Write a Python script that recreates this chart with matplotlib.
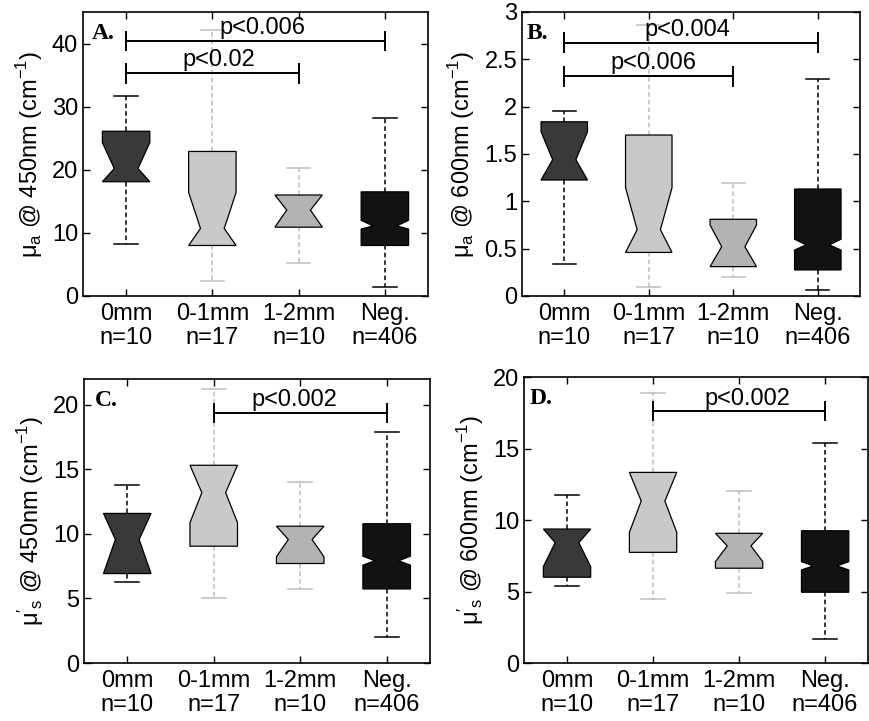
import matplotlib
matplotlib.use("Agg")
import matplotlib.pyplot as plt

plt.rcParams['font.family'] = ['Liberation Sans', 'DejaVu Sans']
plt.rcParams['font.size'] = 17

groups = ['0mm', '0-1mm', '1-2mm', 'Neg.']
counts = [10, 17, 10, 406]
box_colors = ['#393939', '#c9c9c9', '#b3b3b3', '#121212']
whisk_colors = ['black', '#bdbdbd', '#bdbdbd', 'black']

# box summaries per panel: whislo, q1, cilo, med, cihi, q3, whishi
mua450 = [
    [8.2, 18.1, 18.1, 20.2, 24.3, 26.1, 31.7],
    [2.3, 8.0, 8.0, 10.7, 16.4, 22.9, 42.2],
    [5.2, 10.9, 10.9, 13.6, 16.0, 16.0, 20.3],
    [1.5, 8.0, 10.6, 11.1, 12.0, 16.5, 28.2],
]
mua600 = [
    [0.34, 1.225, 1.225, 1.44, 1.735, 1.84, 1.95],
    [0.10, 0.46, 0.46, 0.70, 1.144, 1.70, 2.86],
    [0.20, 0.31, 0.31, 0.52, 0.75, 0.81, 1.19],
    [0.065, 0.275, 0.485, 0.54, 0.60, 1.13, 2.29],
]
mus450 = [
    [6.29, 6.93, 6.93, 9.57, 11.59, 11.59, 13.77],
    [5.07, 9.05, 10.87, 13.2, 15.32, 15.32, 21.2],
    [5.77, 7.71, 8.23, 9.57, 10.6, 10.6, 14.02],
    [1.99, 5.74, 7.58, 7.92, 8.28, 10.79, 17.9],
]
mus600 = [
    [5.42, 6.0, 6.74, 8.42, 9.37, 9.37, 11.74],
    [4.49, 7.74, 9.14, 11.33, 13.33, 13.33, 18.9],
    [4.88, 6.63, 7.09, 8.19, 9.07, 9.07, 12.02],
    [1.67, 4.95, 6.51, 6.79, 7.09, 9.25, 15.4],
]

# significance brackets: (from group, to group, height, label, label x)
sig_a = [(1, 4, 40.4, 'p<0.006', 2.58), (1, 3, 35.3, 'p<0.02', 2.08)]
sig_b = [(1, 4, 2.675, 'p<0.004', 2.46), (1, 3, 2.32, 'p<0.006', 2.06)]
sig_c = [(2, 4, 19.4, 'p<0.002', 2.93)]
sig_d = [(2, 4, 17.6, 'p<0.002', 3.1)]

panels = [
    dict(data=mua450, sig=sig_a, ylim=(0, 45), yticks=[0, 10, 20, 30, 40],
         yticklabels=None, letter='A.', lx=0.026, ly=0.905,
         ylabel='μ$_\\mathregular{a}$ @ 450nm (cm$^\\mathregular{-1}$)',
         rect=[0.0955, 0.5895, 0.397, 0.3939], tick=1.5),
    dict(data=mua600, sig=sig_b, ylim=(0, 3),
         yticks=[0, 0.5, 1, 1.5, 2, 2.5, 3],
         yticklabels=['0', '0.5', '1', '1.5', '2', '2.5', '3'],
         letter='B.', lx=0.014, ly=0.905,
         ylabel='μ$_\\mathregular{a}$ @ 600nm (cm$^\\mathregular{-1}$)',
         rect=[0.6007, 0.5895, 0.389, 0.3939], tick=0.1),
    dict(data=mus450, sig=sig_c, ylim=(0, 22), yticks=[0, 5, 10, 15, 20],
         yticklabels=None, letter='C.', lx=0.032, ly=0.905,
         ylabel="$\\mathregular{μ'_s}$ @ 450nm (cm$^\\mathregular{-1}$)",
         rect=[0.0967, 0.0804, 0.398, 0.3939], tick=0.7),
    dict(data=mus600, sig=sig_d, ylim=(0, 20), yticks=[0, 5, 10, 15, 20],
         yticklabels=None, letter='D.', lx=0.017, ly=0.905,
         ylabel="$\\mathregular{μ'_s}$ @ 600nm (cm$^\\mathregular{-1}$)",
         rect=[0.603, 0.0804, 0.396, 0.3967], tick=0.62),
]

fig = plt.figure(figsize=(8.69, 7.21), dpi=100)
xlabels = [f'{g}\nn={n}' for g, n in zip(groups, counts)]

for p in panels:
    ax = fig.add_axes(p['rect'])
    stats = []
    for row in p['data']:
        wl, q1, cl, md, ch, q3, wh = row
        stats.append(dict(whislo=wl, q1=q1, cilo=cl, med=md, cihi=ch,
                          q3=q3, whishi=wh, fliers=[]))
    res = ax.bxp(stats, positions=[1, 2, 3, 4], widths=0.55,
                 shownotches=True, patch_artist=True, showfliers=False,
                 medianprops=dict(linewidth=0))
    for i, box in enumerate(res['boxes']):
        box.set_facecolor(box_colors[i])
        box.set_edgecolor('black')
        box.set_linewidth(0.9)
    for i in range(4):
        for w in res['whiskers'][2 * i:2 * i + 2]:
            w.set_color(whisk_colors[i])
            w.set_linestyle((0, (3, 2)))
            w.set_linewidth(1.1)
            w.set_zorder(1)
        for c in res['caps'][2 * i:2 * i + 2]:
            c.set_color(whisk_colors[i])
            c.set_linewidth(1.1)

    for g1, g2, y, txt, tx in p['sig']:
        ax.plot([g1, g2], [y, y], color='black', lw=1.4)
        ax.plot([g1, g1], [y - p['tick'], y + p['tick']], color='black', lw=1.4)
        ax.plot([g2, g2], [y - p['tick'], y + p['tick']], color='black', lw=1.4)
        ax.text(tx, y + p['tick'] * 0.2, txt, ha='center', va='bottom', fontsize=17)

    ax.set_xlim(0.5, 4.5)
    ax.set_ylim(*p['ylim'])
    ax.set_yticks(p['yticks'])
    if p['yticklabels']:
        ax.set_yticklabels(p['yticklabels'])
    ax.set_xticks([1, 2, 3, 4])
    ax.set_xticklabels(xlabels, linespacing=1.1)
    ax.tick_params(direction='in', top=True, right=True, length=5,
                   width=1, labelsize=17)
    ax.tick_params(axis='x', pad=5)
    for s in ax.spines.values():
        s.set_linewidth(1.2)
    ax.set_ylabel(p['ylabel'], fontsize=17, labelpad=5)
    ax.text(p['lx'], p['ly'], p['letter'], transform=ax.transAxes,
            family='Liberation Serif', fontweight='bold', fontsize=17,
            va='baseline', ha='left')

fig.savefig('out.png', dpi=100)
